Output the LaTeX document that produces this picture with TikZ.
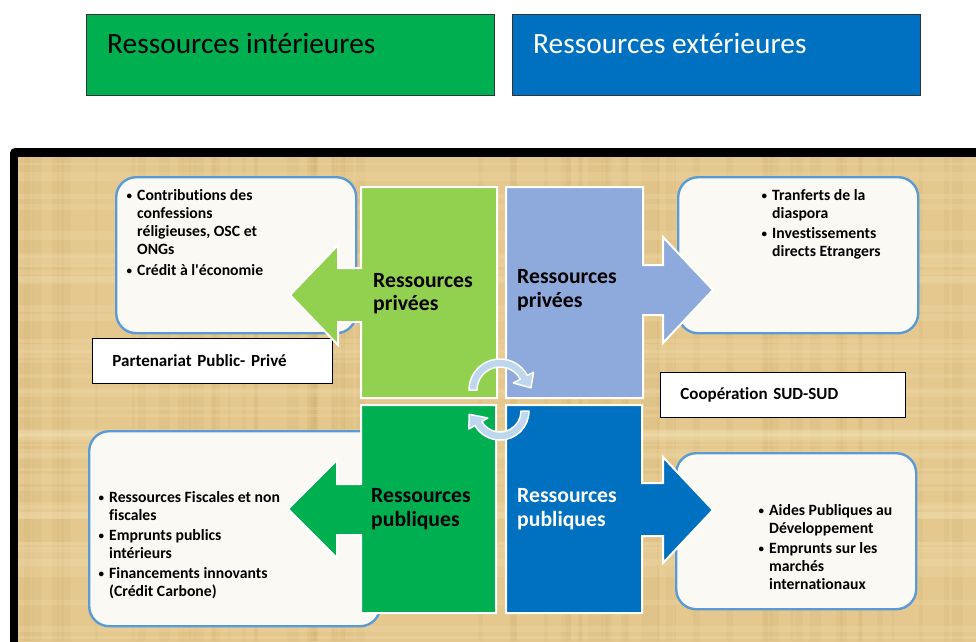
\documentclass[tikz,border=0pt]{standalone}
\usepackage{fontspec}
\setmainfont{Carlito}[Ligatures=NoCommon]
\definecolor{cgreen}{HTML}{00B050}
\definecolor{clgreen}{HTML}{92D050}
\definecolor{cgrey}{HTML}{8EA9DB}
\definecolor{cblue}{HTML}{0070C0}
\definecolor{boxborder}{HTML}{5B9BD5}
\definecolor{boxfill}{HTML}{FBF9F3}
\definecolor{paper}{RGB}{228,200,142}
\definecolor{paperdark}{RGB}{195,158,92}
\definecolor{paperlight}{RGB}{244,225,180}
\definecolor{circfill}{HTML}{BDD7EE}
\newcommand{\bul}{\llap{\raisebox{0.6pt}{\fontsize{11}{11}\selectfont\textbullet}\hspace{5pt}}}
\tikzset{
  topbox/.style={anchor=north west, draw=black!80, line width=0.8pt, minimum width=408pt, minimum height=81pt, inner sep=0pt},
  toptext/.style={anchor=base west, inner sep=0pt, font=\fontsize{29.4}{32}\selectfont},
  infobox/.style={anchor=north west, draw=boxborder, fill=boxfill, line width=2.4pt, rounded corners=20pt, inner sep=0pt},
  bullettext/.style={anchor=base west, inner sep=0pt, font=\bfseries\fontsize{15.7}{18}\selectfont},
  blockshape/.style={draw=white, line width=2pt, line join=miter},
  blocktext/.style={anchor=west, inner sep=0pt, align=left, font=\bfseries\fontsize{21.7}{23.5}\selectfont},
  labelbox/.style={anchor=west, draw=black, fill=white, line width=0.9pt, minimum height=45pt, inner xsep=20pt, inner ysep=0pt, align=left, font=\bfseries\fontsize{17}{19}\selectfont},
  circarrow/.style={fill=circfill, draw=white, line width=1.5pt, line join=round}
}
\begin{document}
\begin{tikzpicture}[x=1pt,y=-1pt]
\useasboundingbox (0,0) rectangle (976,641);
\clip (0,0) rectangle (976,641);
\fill[white] (0,0) rectangle (976,641);

% top boxes
\node[topbox, fill=cgreen] (interieur) at (86,14) {};
\node[toptext, text=black] (interieurText) at (107,53) {Ressources intérieures};
\node[topbox, fill=cblue] (exterieur) at (512,14) {};
\node[toptext, text=white] (exterieurText) at (533,53) {Ressources extérieures};

% frame and paper background
\fill[black, rounded corners=5pt] (10,148) rectangle (1000,700);
\fill[paper] (18,157) rectangle (1000,700);
\begin{scope}
\clip (18,157) rectangle (976,641);
\pgfmathsetseed{11}
\foreach \i in {1,...,70}{
  \pgfmathsetmacro\xx{18+958*rnd}
  \pgfmathsetmacro\ww{2+10*rnd}
  \fill[paperdark, opacity=0.10] (\xx,157) rectangle ++(\ww,484);
}
\foreach \i in {1,...,50}{
  \pgfmathsetmacro\yy{157+484*rnd}
  \pgfmathsetmacro\hh{2+8*rnd}
  \fill[paperlight, opacity=0.20] (18,\yy) rectangle ++(958,\hh);
}
\end{scope}

% information boxes
\node[infobox, minimum width=240pt, minimum height=156pt] (tlBox) at (115,176) {};
\node[infobox, minimum width=240pt, minimum height=156pt] (trBox) at (677,176) {};
\node[infobox, minimum width=291pt, minimum height=195pt] (blBox) at (88,430) {};
\node[infobox, minimum width=240pt, minimum height=156pt] (brBox) at (675,452) {};

\node[bullettext] (tlText) at (137,200) {\begin{tabular}[t]{@{}l@{}}\bul Contributions des\\ confessions\\ réligieuses, OSC et\\ ONGs\\[3pt] \bul Crédit à l\textquotesingle économie\end{tabular}};
\node[bullettext] (trText) at (772,200) {\begin{tabular}[t]{@{}l@{}}\bul Tranferts de la\\ diaspora\\[2pt] \bul Investissements\\ directs Etrangers\end{tabular}};
\node[bullettext] (blText) at (109,502) {\begin{tabular}[t]{@{}l@{}}\bul Ressources Fiscales et non\\ fiscales\\[2pt] \bul Emprunts publics\\ intérieurs\\[2pt] \bul Financements innovants\\ (Crédit Carbone)\end{tabular}};
\node[bullettext] (brText) at (769,515) {\begin{tabular}[t]{@{}l@{}}\bul Aides Publiques au\\ Développement\\[2pt] \bul Emprunts sur les\\ marchés\\ internationaux\end{tabular}};

% label boxes
\node[labelbox, text width=200pt] (ppp) at (92,360.5) {Partenariat Public- Privé};
\node[labelbox, text width=205pt] (sudsud) at (660,394.5) {Coopération SUD-SUD};

% quadrant arrows
\path[blockshape, fill=clgreen] (497,187) -- (361,187) -- (361,268) -- (338,268) -- (338,245) -- (290,295) -- (338,345) -- (338,322) -- (361,322) -- (361,398) -- (497,398) -- cycle;
\path[blockshape, fill=cgrey] (506,187) -- (643,187) -- (643,265) -- (663,265) -- (663,237) -- (713,290) -- (663,343) -- (663,315) -- (643,315) -- (643,398) -- (506,398) -- cycle;
\path[blockshape, fill=cgreen] (496,405) -- (361,405) -- (361,484) -- (337,484) -- (337,460) -- (288,509) -- (337,558) -- (337,535) -- (361,535) -- (361,613) -- (496,613) -- cycle;
\path[blockshape, fill=cblue] (506,405) -- (642,405) -- (642,483) -- (663,483) -- (663,457) -- (713,510) -- (663,563) -- (663,536) -- (642,536) -- (642,613) -- (506,613) -- cycle;

\node[blocktext, text=black] (tlLabel) at (373,293.5) {Ressources\\privées};
\node[blocktext, text=black] (trLabel) at (517,290) {Ressources\\privées};
\node[blocktext, text=black] (blLabel) at (371,509) {Ressources\\publiques};
\node[blocktext, text=white] (brLabel) at (517,509) {Ressources\\publiques};

% circular arrows
\begin{scope}[shift={(500,390)}]
\path[circarrow] (180:31) arc[start angle=180, end angle=332, radius=31] -- (332:38) -- (356:31) -- (332:15) -- (332:23) arc[start angle=332, end angle=180, radius=23] -- cycle;
\end{scope}
\begin{scope}[shift={(500,411)}]
\path[circarrow] (0:29) arc[start angle=0, end angle=150, radius=29] -- (150:36) -- (174:31) -- (150:14) -- (150:21) arc[start angle=150, end angle=0, radius=21] -- cycle;
\end{scope}
\end{tikzpicture}
\end{document}
